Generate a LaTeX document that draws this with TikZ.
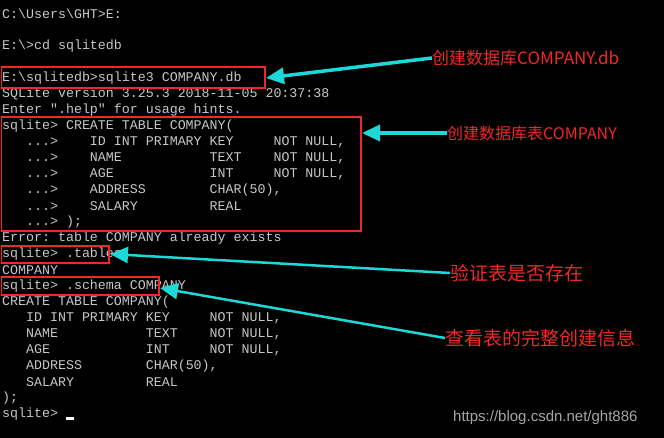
\documentclass[tikz,border=0pt]{standalone}
\usepackage{fontspec}
\setmonofont{Liberation Mono}
\newfontfamily\cjk{Noto Sans CJK SC}
\setsansfont{Liberation Sans}
\usetikzlibrary{arrows.meta}
\definecolor{term}{RGB}{200,200,200}
\definecolor{redb}{RGB}{240,40,40}
\definecolor{cyanA}{RGB}{30,216,216}
\begin{document}
\begin{tikzpicture}[x=1pt,y=-1pt,
  ln/.style={anchor=west,inner sep=0pt,text=term,font=\ttfamily\fontsize{13.3}{16}\selectfont},
  rbox/.style={draw=redb,line width=1.2pt},
  lab/.style={anchor=west,inner sep=0pt,text=redb},
  arr/.style={draw=cyanA,line width=3.5pt,-{Triangle[length=18pt,width=16pt,fill=cyanA]}}]
\fill[black] (0,0) rectangle (664,438);
\useasboundingbox (0,0) rectangle (664,438);
\node[ln] (l1) at (2,14) {C:\textbackslash Users\textbackslash GHT>E:};
\node[ln] (l2) at (2,46) {E:\textbackslash>cd sqlitedb};
\node[ln] (l3) at (2,78) {E:\textbackslash sqlitedb>sqlite3 COMPANY.db};
\node[ln] (l4) at (2,94) {SQLite version 3.25.3 2018-11-05 20:37:38};
\node[ln] (l5) at (2,110) {Enter ".help" for usage hints.};
\node[ln] (l6) at (2,126) {sqlite> CREATE TABLE COMPANY(};
\node[ln] (l7) at (2,142) {\ \ \ ...>\ \ \ \ ID INT PRIMARY KEY\ \ \ \ \ NOT NULL,};
\node[ln] (l8) at (2,158) {\ \ \ ...>\ \ \ \ NAME\ \ \ \ \ \ \ \ \ \ \ TEXT\ \ \ \ NOT NULL,};
\node[ln] (l9) at (2,174) {\ \ \ ...>\ \ \ \ AGE\ \ \ \ \ \ \ \ \ \ \ \ INT\ \ \ \ \ NOT NULL,};
\node[ln] (l10) at (2,190) {\ \ \ ...>\ \ \ \ ADDRESS\ \ \ \ \ \ \ \ CHAR(50),};
\node[ln] (l11) at (2,206) {\ \ \ ...>\ \ \ \ SALARY\ \ \ \ \ \ \ \ \ REAL};
\node[ln] (l12) at (2,222) {\ \ \ ...> );};
\node[ln] (l13) at (2,238) {Error: table COMPANY already exists};
\node[ln] (l14) at (2,254) {sqlite> .tables};
\node[ln] (l15) at (2,270) {COMPANY};
\node[ln] (l16) at (2,286) {sqlite> .schema COMPANY};
\node[ln] (l17) at (2,302) {CREATE TABLE COMPANY(};
\node[ln] (l18) at (2,318) {\ \ \ ID INT PRIMARY KEY\ \ \ \ \ NOT NULL,};
\node[ln] (l19) at (2,334) {\ \ \ NAME\ \ \ \ \ \ \ \ \ \ \ TEXT\ \ \ \ NOT NULL,};
\node[ln] (l20) at (2,350) {\ \ \ AGE\ \ \ \ \ \ \ \ \ \ \ \ INT\ \ \ \ \ NOT NULL,};
\node[ln] (l21) at (2,366) {\ \ \ ADDRESS\ \ \ \ \ \ \ \ CHAR(50),};
\node[ln] (l22) at (2,382) {\ \ \ SALARY\ \ \ \ \ \ \ \ \ REAL};
\node[ln] (l23) at (2,398) {);};
\node[ln] (l24) at (2,414) {sqlite> };
\fill[white] (66,417) rectangle (74,420);
% boxes
\coordinate (b1) at (266,78);
\coordinate (b2) at (362,133);
\coordinate (b3) at (110,254);
\coordinate (b4) at (160,288);
\draw[rbox] (1.5,67) rectangle (265,88);
\draw[rbox] (1.5,117) rectangle (361,231);
\draw[rbox] (1.5,246) rectangle (109,263);
\draw[rbox] (1.5,277) rectangle (159,295);
% labels
\node[lab,font=\cjk\fontsize{17}{20}\selectfont] (t1) at (432,58) {创建数据库COMPANY.db};
\node[lab,font=\cjk\fontsize{16}{20}\selectfont] (t2) at (447,133) {创建数据库表COMPANY};
\node[lab,font=\cjk\fontsize{19}{22}\selectfont] (t3) at (450,273) {验证表是否存在};
\node[lab,font=\cjk\fontsize{19}{22}\selectfont] (t4) at (445,338) {查看表的完整创建信息};
\node[anchor=west,inner sep=0pt,text=gray!70,font=\sffamily\fontsize{15}{18}\selectfont] (wm) at (453,418) {https://blog.csdn.net/ght886};
% arrows
\draw[arr] (t1.west) -- (b1);
\draw[arr] (t2.west) -- (b2);
\draw[arr,line width=2.5pt] (t3.west) -- (b3);
\draw[arr,line width=2.5pt] (t4.west) -- (b4);
\end{tikzpicture}
\end{document}
